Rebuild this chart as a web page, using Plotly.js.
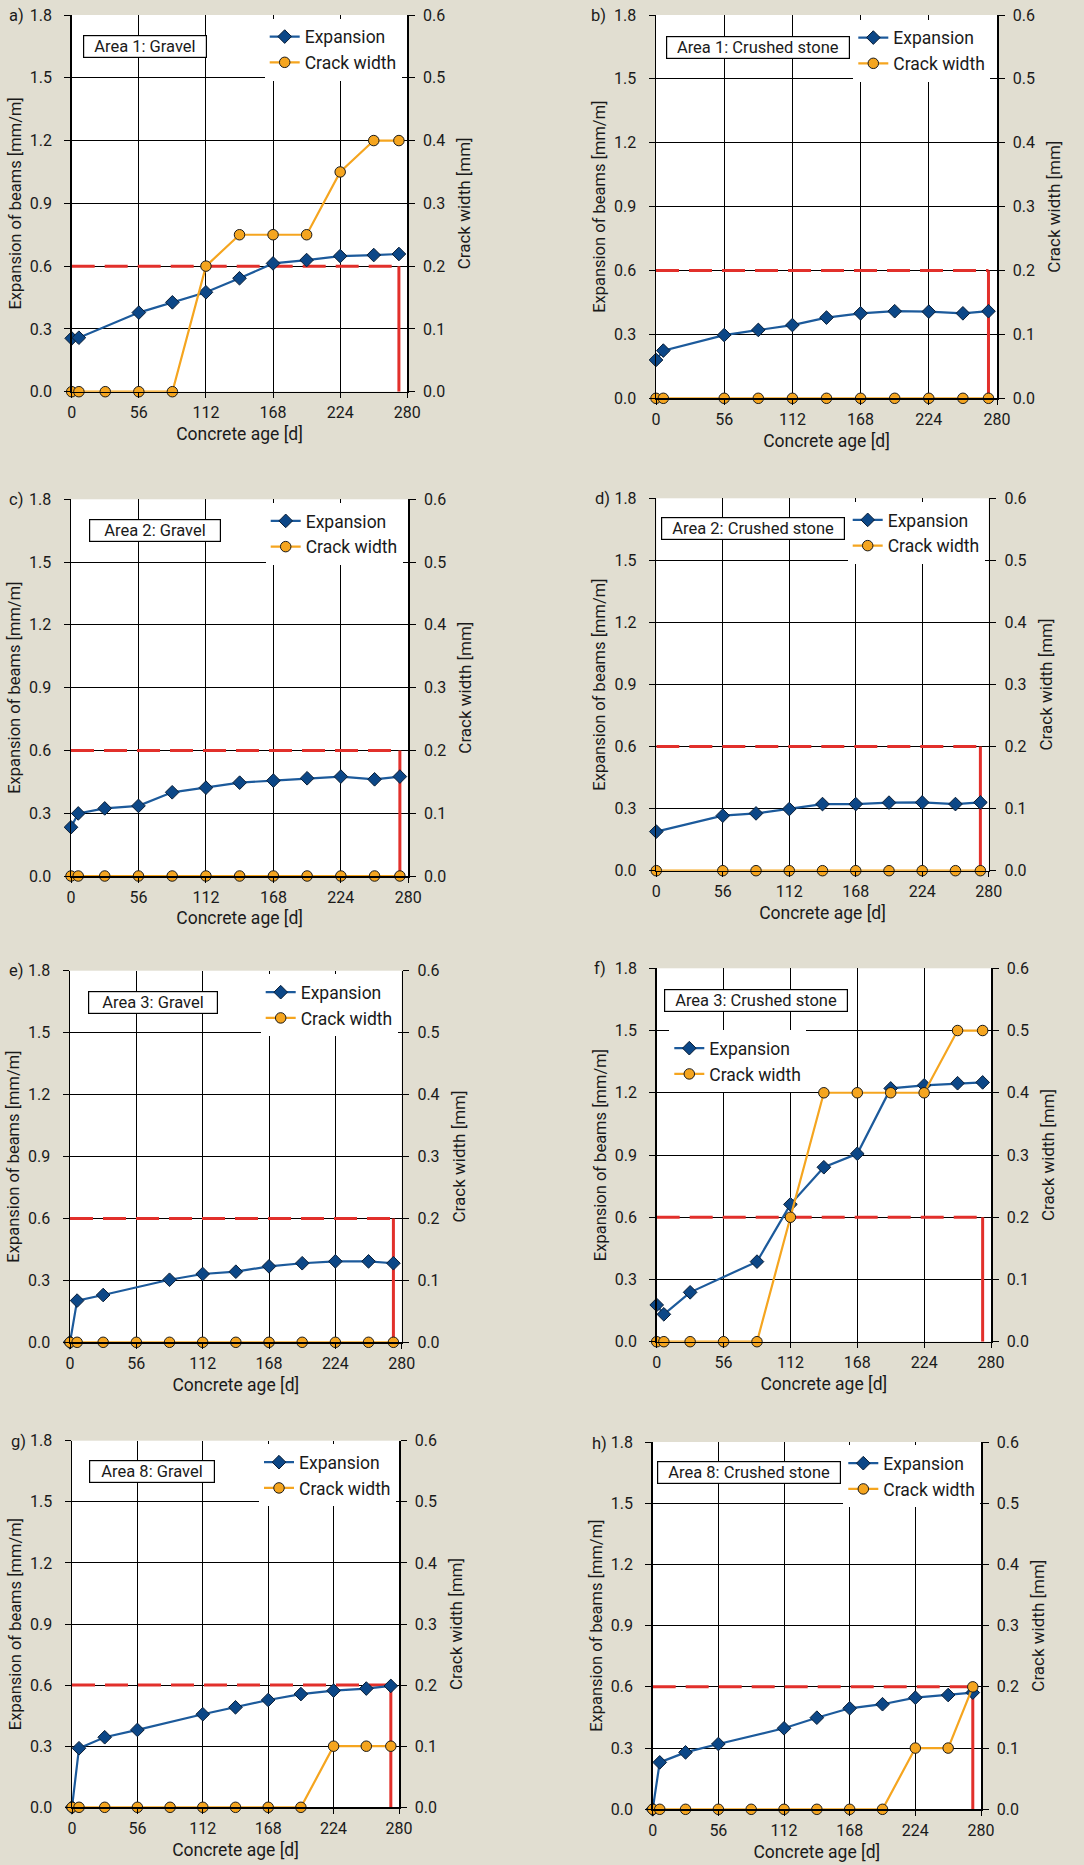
<!DOCTYPE html>
<html><head><meta charset="utf-8">
<script src="https://cdn.plot.ly/plotly-3.0.1.min.js"></script>
<style>html,body{margin:0;padding:0;background:#e1ded1;}#chart{width:1084px;height:1865px;}</style>
</head><body><div id="chart"></div>
<script>
// ---------- data ----------
const panelLetters = ['a)','b)','c)','d)','e)','f)','g)','h)'];
const areaLabels = ['Area 1: Gravel','Area 1: Crushed stone','Area 2: Gravel','Area 2: Crushed stone',
                    'Area 3: Gravel','Area 3: Crushed stone','Area 8: Gravel','Area 8: Crushed stone'];
const seriesNames = ['Expansion','Crack width'];
const ageTicks = [0,56,112,168,224,280];
const expansionTicks = [0,0.3,0.6,0.9,1.2,1.5,1.8];
const crackTicks = [0,0.1,0.2,0.3,0.4,0.5,0.6];
const limitExpansion = 0.6;   // mm/m
const limitAge = 273;         // d

const expAgeA = [0,6,56,84,112,140,168,196,224,252,273];
const expA    = [0.255,0.258,0.378,0.427,0.475,0.542,0.613,0.629,0.648,0.653,0.658];
const crackAgeA = [0,6,28,56,84,112,140,168,196,224,252,273];
const crackA    = [0,0,0,0,0,0.2,0.25,0.25,0.25,0.35,0.4,0.4];

const expAgeB = [0,6,56,84,112,140,168,196,224,252,273];
const expB    = [0.18,0.224,0.297,0.321,0.344,0.379,0.399,0.409,0.407,0.399,0.409];
const crackAgeB = [0,6,56,84,112,140,168,196,224,252,273];
const crackB    = [0,0,0,0,0,0,0,0,0,0,0];

const expAgeC = [0,6,28,56,84,112,140,168,196,224,252,273];
const expC    = [0.233,0.299,0.323,0.335,0.40,0.422,0.446,0.456,0.467,0.475,0.462,0.475];
const crackAgeC = [0,6,28,56,84,112,140,168,196,224,252,273];
const crackC    = [0,0,0,0,0,0,0,0,0,0,0,0];

const expAgeD = [0,56,84,112,140,168,196,224,252,273];
const expD    = [0.189,0.266,0.277,0.298,0.322,0.322,0.329,0.330,0.322,0.330];
const crackAgeD = [0,56,84,112,140,168,196,224,252,273];
const crackD    = [0,0,0,0,0,0,0,0,0,0];

const expAgeE = [0,6,28,84,112,140,168,196,224,252,273];
const expE    = [0,0.202,0.229,0.303,0.331,0.342,0.368,0.383,0.392,0.392,0.383];
const crackAgeE = [0,6,28,56,84,112,140,168,196,224,252,273];
const crackE    = [0,0,0,0,0,0,0,0,0,0,0,0];

const expAgeF = [0,6,28,84,112,140,168,196,224,252,273];
const expF    = [0.177,0.132,0.238,0.386,0.662,0.841,0.906,1.221,1.236,1.246,1.25];
const crackAgeF = [0,6,28,56,84,112,140,168,196,224,252,273];
const crackF    = [0,0,0,0,0,0.2,0.4,0.4,0.4,0.4,0.5,0.5];

const expAgeG = [0,6,28,56,112,140,168,196,224,252,273];
const expG    = [0,0.29,0.344,0.38,0.457,0.491,0.527,0.556,0.573,0.583,0.596];
const crackAgeG = [0,6,28,56,84,112,140,168,196,224,252,273];
const crackG    = [0,0,0,0,0,0,0,0,0,0.1,0.1,0.1];

const expAgeH = [0,6,28,56,112,140,168,196,224,252,273];
const expH    = [0,0.230,0.279,0.320,0.397,0.449,0.495,0.515,0.547,0.560,0.572];
const crackAgeH = [0,6,28,56,84,112,140,168,196,224,252,273];
const crackH    = [0,0,0,0,0,0,0,0,0,0.1,0.1,0.2];

const panels = [
  [expAgeA,expA,crackAgeA,crackA],[expAgeB,expB,crackAgeB,crackB],
  [expAgeC,expC,crackAgeC,crackC],[expAgeD,expD,crackAgeD,crackD],
  [expAgeE,expE,crackAgeE,crackE],[expAgeF,expF,crackAgeF,crackF],
  [expAgeG,expG,crackAgeG,crackG],[expAgeH,expH,crackAgeH,crackH]
];

// ---------- layout geometry (px) ----------
const W = 1084, H = 1865;
const plotBoxes = [ // left, top, right, bottom
  [71.7,15,407.3,391.7],[656,15,997,398.3],
  [71,499.3,408.3,876],[656.3,498.3,988.7,870.7],
  [70,970.7,401.7,1342.3],[656.7,968.3,991,1341.7],
  [72,1440.7,399,1807.3],[652.7,1442,981,1809.3]];
const labelBoxes = [
  [83.3,35,206.7,58.3],[666,36,849.3,59.3],
  [89,519.3,220.7,542.3],[661.3,517,845.3,541],
  [87.7,990.7,217.3,1013.3],[664.3,989,848,1012.3],
  [89,1460,214.7,1482.7],[657,1461.3,841,1485]];
const legendPos = [ // text start x, first row centre y
  [300.7,36.7],[889.3,37.7],[301.7,521],[883.7,520],
  [296.7,992.3],[705.3,1048.3],[295,1462.3],[879.3,1463.3]];
const letterPos = [[16,15],[598.7,15],[16,499.3],[602,498.3],[16,970.7],[600.3,968.3],[18.3,1441.7],[599.3,1443.3]];

const FONT = "Roboto, 'Liberation Sans', Arial, sans-serif";
const BLUE_LINE = '#1c5a9b', BLUE_MARK = '#0c4787', ORANGE = '#f5a51f', RED = '#e2302b';

const px = v => v / W, py = v => 1 - v / H;

const traces = [];
const layout = {
  width: W, height: H,
  margin: {l:0, r:0, t:0, b:0},
  paper_bgcolor: '#e1ded1', plot_bgcolor: '#ffffff',
  font: {family: FONT, size: 16, color: '#1a1a1a'},
  showlegend: true,
  shapes: [], annotations: []
};

panels.forEach((p, i) => {
  const xName = i === 0 ? 'x' : 'x' + (i + 1);
  const yL = 2 * i + 1, yR = 2 * i + 2;
  const yLName = yL === 1 ? 'y' : 'y' + yL;
  const yRName = 'y' + yR;
  const legName = i === 0 ? 'legend' : 'legend' + (i + 1);
  const [l, t, r, b] = plotBoxes[i];

  layout[i === 0 ? 'xaxis' : 'xaxis' + (i + 1)] = {
    domain: [px(l), px(r)], anchor: yLName, range: [0, 280],
    tickmode: 'array', tickvals: ageTicks, ticks: 'outside', ticklen: 5, tickcolor: '#000', tickwidth: 1,
    showline: true, linecolor: '#000', linewidth: 1.5,
    showgrid: true, gridcolor: '#000', gridwidth: 1, zeroline: false,
    tickfont: {size: 16}, ticklabelstandoff: 1, fixedrange: true,
    title: {text: 'Concrete age [d]', font: {size: 17.5}, standoff: 6}
  };
  layout[yL === 1 ? 'yaxis' : 'yaxis' + yL] = {
    domain: [py(b), py(t)], anchor: xName, range: [0, 1.8],
    tickmode: 'array', tickvals: expansionTicks, tickformat: '.1f',
    ticks: 'outside', ticklen: 6, tickcolor: '#000', tickwidth: 1,
    showline: true, linecolor: '#000', linewidth: 1.5,
    showgrid: true, gridcolor: '#000', gridwidth: 1, zeroline: false,
    tickfont: {size: 16}, ticklabelstandoff: 9, fixedrange: true,
    title: {text: 'Expansion of beams [mm/m]', font: {size: 16.5}, standoff: 4}
  };
  layout['yaxis' + yR] = {
    overlaying: yLName, side: 'right', anchor: xName, range: [0, 0.6],
    tickmode: 'array', tickvals: crackTicks, tickformat: '.1f',
    ticks: 'outside', ticklen: 6, tickcolor: '#000', tickwidth: 1,
    showline: true, linecolor: '#000', linewidth: 1.5,
    showgrid: false, zeroline: false,
    tickfont: {size: 16}, ticklabelstandoff: 5, fixedrange: true,
    title: {text: 'Crack width [mm]', font: {size: 17}, standoff: 14}
  };

  // limit lines
  layout.shapes.push({type: 'line', xref: xName, yref: yLName, layer: 'between',
    x0: 0, x1: limitAge, y0: limitExpansion, y1: limitExpansion,
    line: {color: RED, width: 3, dash: '23px,10px'}});
  layout.shapes.push({type: 'line', xref: xName, yref: yLName, layer: 'between',
    x0: limitAge, x1: limitAge, y0: limitExpansion, y1: 0,
    line: {color: RED, width: 3}});

  // series
  traces.push({type: 'scatter', mode: 'lines+markers', name: seriesNames[0],
    x: p[0], y: p[1], xaxis: xName, yaxis: yLName, legend: legName, cliponaxis: false,
    line: {color: BLUE_LINE, width: 2.2},
    marker: {symbol: 'diamond', size: 10.5, color: BLUE_MARK, line: {color: '#0a1e36', width: 1}}});
  traces.push({type: 'scatter', mode: 'lines+markers', name: seriesNames[1],
    x: p[2], y: p[3], xaxis: xName, yaxis: yRName, legend: legName, cliponaxis: false,
    line: {color: ORANGE, width: 2.2},
    marker: {symbol: 'circle', size: 10.5, color: ORANGE, line: {color: '#1a1a1a', width: 1}}});

  // legend
  const [lx, ly] = legendPos[i];
  layout[legName] = {x: px(lx - 36), y: py(ly - 18), xanchor: 'left', yanchor: 'top',
    xref: 'paper', yref: 'paper', bgcolor: '#ffffff', borderwidth: 0,
    font: {size: 17.5}, tracegroupgap: 0, itemwidth: 30};

  // area label box
  const [bl, bt, br, bb] = labelBoxes[i];
  layout.annotations.push({xref: 'paper', yref: 'paper', x: px(bl), y: py(bt),
    xanchor: 'left', yanchor: 'top', showarrow: false, text: areaLabels[i],
    font: {size: 16.5}, align: 'center', width: br - bl - 4,
    bgcolor: '#ffffff', bordercolor: '#000', borderwidth: 1.2, borderpad: 1});

  // panel letter
  const [cx, cy] = letterPos[i];
  layout.annotations.push({xref: 'paper', yref: 'paper', x: px(cx), y: py(cy),
    xanchor: 'center', yanchor: 'middle', showarrow: false, text: panelLetters[i],
    font: {size: 16.5}});
});

Plotly.newPlot('chart', traces, layout, {displayModeBar: false, staticPlot: true});
</script>
</body></html>
